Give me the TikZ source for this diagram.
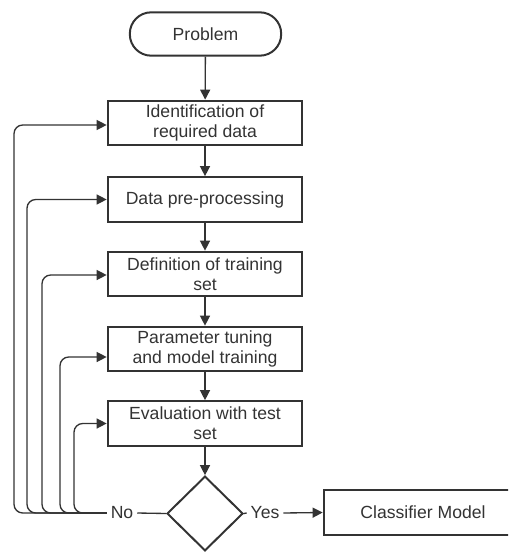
\documentclass[tikz,border=0pt]{standalone}
\usepackage{fontspec}
\setmainfont{Liberation Sans}
\usetikzlibrary{shapes.geometric,arrows.meta,calc}
\definecolor{ink}{HTML}{333333}
\begin{document}
\begin{tikzpicture}[x=0.75pt,y=-0.75pt,
  every node/.style={text=ink, font=\fontsize{13.2}{15.2}\selectfont},
  stepbox/.style={draw=ink, line width=1.5pt, minimum width=146pt,
    minimum height=33.5pt, align=center, inner sep=0pt},
  terminal/.style={draw=ink, line width=1.5pt, rounded corners=16pt,
    minimum width=113.5pt, minimum height=32.5pt, inner sep=0pt},
  decision/.style={draw=ink, line width=1.5pt, diamond, aspect=1,
    minimum width=57pt, minimum height=56pt, inner sep=0pt},
  label/.style={fill=white, inner xsep=2.8pt, inner ysep=1pt},
  link/.style={draw=ink, line width=1pt},
  flow/.style={link, -{Triangle[length=7.5pt,width=7.5pt]}},
  loop/.style={flow, rounded corners=6.5pt}
]
\useasboundingbox (0,0) rectangle (508,552);
\clip (0,0) rectangle (508,552);

% process chain
\node[terminal] (problem) at (205.5,34) {Problem};
\node[stepbox] (ident) at (205,123) {Identification of\\required data};
\node[stepbox] (prep) at (205,199.5) {Data pre-processing};
\node[stepbox] (defn) at (205,274) {Definition of training\\set};
\node[stepbox] (tune) at (205,349) {Parameter tuning\\and model training};
\node[stepbox] (eval) at (205,423.5) {Evaluation with test\\set};
\node[decision] (dec) at (205,513.5) {};
\node[stepbox, minimum width=149pt] (model) at (423,512.5) {Classifier Model};

% branch labels
\node[label] (no) at (122,513) {No};
\node[label] (yes) at (265,513) {Yes};

% main flow
\draw[flow] (problem) -- (ident);
\draw[flow] (ident) -- (prep);
\draw[flow] (prep) -- (defn);
\draw[flow] (defn) -- (tune);
\draw[flow] (tune) -- (eval);
\draw[flow] (eval) -- (dec);
\draw[link] (dec.west) -- (no.east);
\draw[link] (dec.east) -- (yes.west);
\draw[flow] (yes.east) -- (model.west);

% feedback loops back to each step
\draw[loop] (no.west) -- (14,513) |- ($(ident.west)+(0,2)$);
\draw[loop] (no.west) -- (27,513) |- (prep.west);
\draw[loop] (no.west) -- (42,513) |- ($(defn.west)+(0,1)$);
\draw[loop] (no.west) -- (60,513) |- ($(tune.west)+(0,8)$);
\draw[loop] (no.west) -- (74,513) |- (eval.west);
\end{tikzpicture}
\end{document}
